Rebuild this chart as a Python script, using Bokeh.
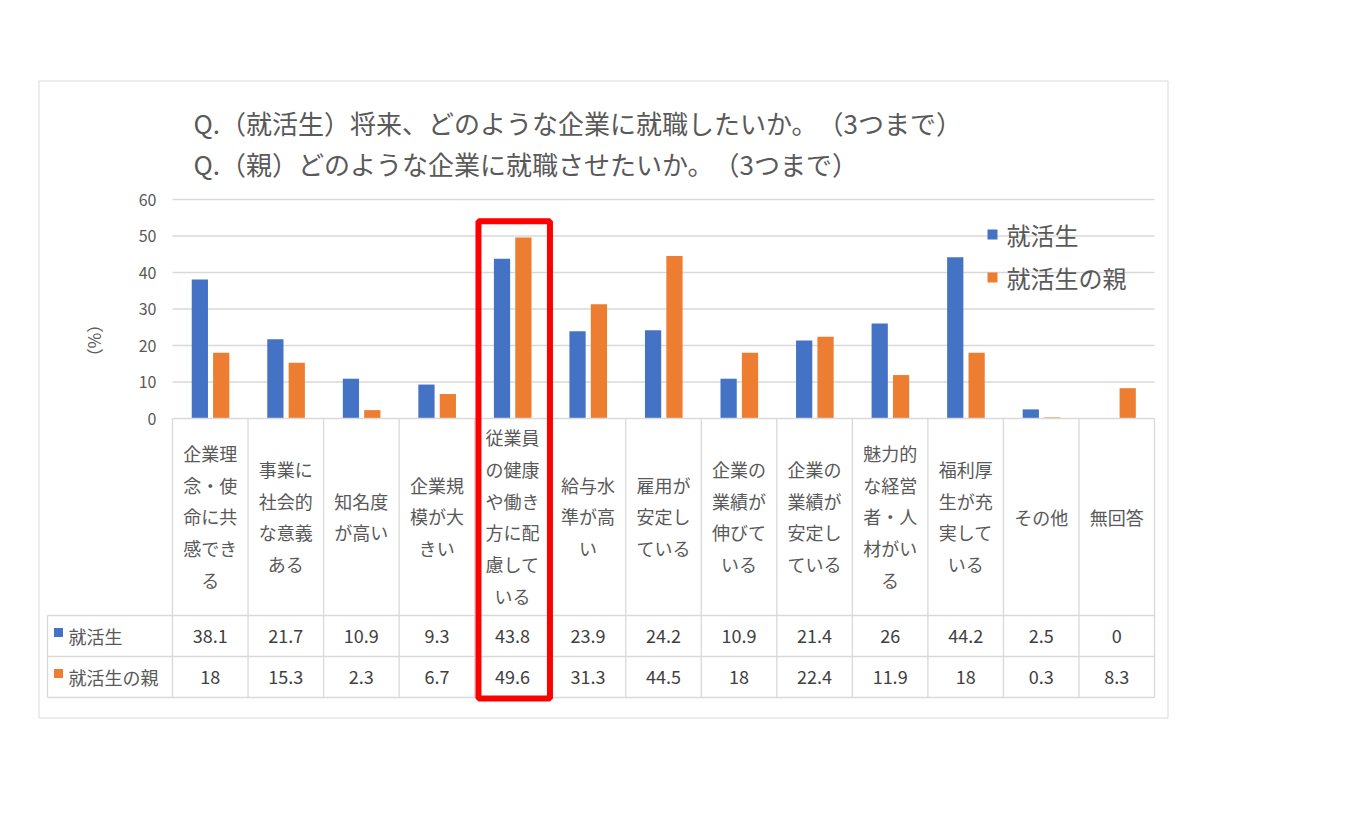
from bokeh.plotting import figure
from bokeh.models import Range1d, InlineStyleSheet
from bokeh.core.properties import value
from bokeh.embed import file_html
from bokeh.resources import INLINE

# ---------------- data ----------------
title_lines = ["Q.（就活生）将来、どのような企業に就職したいか。（3つまで）",
               "Q.（親）どのような企業に就職させたいか。（3つまで）"]
categories = ["企業理念・使命に共感できる", "事業に社会的な意義ある", "知名度が高い",
              "企業規模が大きい", "従業員の健康や働き方に配慮している", "給与水準が高い",
              "雇用が安定している", "企業の業績が伸びている", "企業の業績が安定している",
              "魅力的な経営者・人材がいる", "福利厚生が充実している", "その他", "無回答"]
series_names = ["就活生", "就活生の親"]
students = [38.1, 21.7, 10.9, 9.3, 43.8, 23.9, 24.2, 10.9, 21.4, 26, 44.2, 2.5, 0]
parents = [18, 15.3, 2.3, 6.7, 49.6, 31.3, 44.5, 18, 22.4, 11.9, 18, 0.3, 8.3]
y_ticks = [0, 10, 20, 30, 40, 50, 60]
y_label = "（%）"
highlight_index = 4

# ---------------- styling / geometry ----------------
W, H = 1371, 816
PX_X0 = 172.0          # pixel of x = 0 (left edge of first category)
CW = 75.54             # pixels per category
PY0 = 418.0            # pixel of y = 0
PPU = 3.65             # pixels per percent
BLUE = "#4472C4"
ORANGE = "#ED7D31"
GRID = "#D9D9D9"
TXT = "#595959"
FONT = value("Noto Sans CJK JP")


def px(x):
    return (x - PX_X0) / CW


def py(y):
    return (PY0 - y) / PPU


n = len(categories)

p = figure(width=W, height=H, output_backend="svg", toolbar_location=None,
           x_range=Range1d(px(0), px(W)), y_range=Range1d(py(H), py(0)),
           min_border=0)
p.stylesheets = [InlineStyleSheet(css=":host { text-spacing-trim: space-all; }")]
p.axis.visible = False
p.grid.visible = False
p.outline_line_color = None
p.background_fill_color = "white"
p.border_fill_color = "white"

# outer border of the chart area
p.quad(left=[px(38.5)], right=[px(1167.5)], top=[py(80.5)], bottom=[py(717.5)],
       fill_color=None, line_color=GRID, line_width=1)

# title
p.text(x=[px(193), px(193)], y=[py(122), py(163)], text=title_lines,
       text_font=FONT, text_font_size="26px", text_color=TXT,
       text_align="left", text_baseline="middle")

# grid lines
gy = [t for t in y_ticks if t > 0]
p.segment(x0=[0] * len(gy), x1=[n] * len(gy), y0=gy, y1=gy,
          line_color=GRID, line_width=1.3)

# y tick labels
p.text(x=[px(156)] * len(y_ticks), y=y_ticks, text=[str(t) for t in y_ticks],
       text_font=FONT, text_font_size="16px", text_color=TXT,
       text_align="right", text_baseline="middle")

# y axis label (rotated)
p.text(x=[px(95)], y=[py(340)], text=[y_label], angle=-1.5708,
       text_font=FONT, text_font_size="17px", text_color=TXT,
       text_align="center", text_baseline="middle")

# bars
xs = [i + 0.5 for i in range(n)]
bw = 0.215
p.vbar(x=[x - 0.138 for x in xs], top=students, bottom=0, width=bw,
       fill_color=BLUE, line_color=None)
p.vbar(x=[x + 0.145 for x in xs], top=parents, bottom=0, width=bw,
       fill_color=ORANGE, line_color=None)

# legend
p.rect(x=[px(992), px(992)], y=[py(234), py(277)], width=10, height=10,
       width_units="screen", height_units="screen",
       fill_color=[BLUE, ORANGE], line_color=None)
p.text(x=[px(1006), px(1006)], y=[py(234), py(277)], text=series_names,
       text_font=FONT, text_font_size="24px", text_color=TXT,
       text_align="left", text_baseline="middle")

# ---------------- data table ----------------
row_tops = [615, 656, 697]
p.segment(x0=[0], x1=[n], y0=[0], y1=[0], line_color=GRID, line_width=1.3)
p.segment(x0=[px(47)] * 3, x1=[n] * 3, y0=[py(r) for r in row_tops],
          y1=[py(r) for r in row_tops], line_color=GRID, line_width=1.3)
p.segment(x0=list(range(n + 1)), x1=list(range(n + 1)), y0=[0] * (n + 1),
          y1=[py(697)] * (n + 1), line_color=GRID, line_width=1.3)
p.segment(x0=[px(47)], x1=[px(47)], y0=[py(615)], y1=[py(697)],
          line_color=GRID, line_width=1.3)


def wrap(s, k=3):
    return "\n".join(s[i:i + k] for i in range(0, len(s), k))


p.text(x=xs, y=[py(516)] * n, text=[wrap(c) for c in categories],
       text_font=FONT, text_font_size="18px", text_color=TXT,
       text_align="center", text_baseline="middle", text_line_height=1.22)


def fmt(v):
    return f"{v:g}"


p.text(x=xs, y=[py(635.5)] * n, text=[fmt(v) for v in students],
       text_font=FONT, text_font_size="18px", text_color="#404040",
       text_align="center", text_baseline="middle")
p.text(x=xs, y=[py(676.5)] * n, text=[fmt(v) for v in parents],
       text_font=FONT, text_font_size="18px", text_color="#404040",
       text_align="center", text_baseline="middle")

# row headers
p.rect(x=[px(58), px(58)], y=[py(632), py(673)], width=9, height=9,
       width_units="screen", height_units="screen",
       fill_color=[BLUE, ORANGE], line_color=None)
p.text(x=[px(68), px(68)], y=[py(635.5), py(676.5)], text=series_names,
       text_font=FONT, text_font_size="18px", text_color=TXT,
       text_align="left", text_baseline="middle")

# highlight box around the highlighted category column
hl = PX_X0 + highlight_index * CW
p.quad(left=[px(hl + 3.8)], right=[px(hl + 75.3)], top=[py(220.7)], bottom=[py(698)],
       fill_color=None, line_color="#FF0000", line_width=6)

open("out.html", "w").write(file_html(p, INLINE))
